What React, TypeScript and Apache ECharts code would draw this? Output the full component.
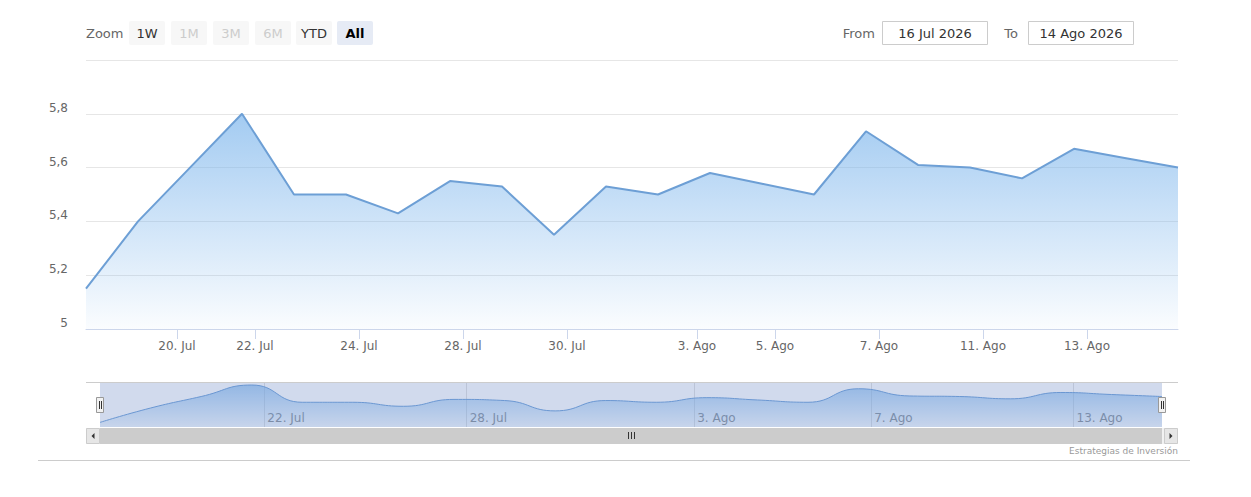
import React, { useEffect, useRef } from 'react';
import * as echarts from 'echarts';

// ---- data ----
const dates = [
  '2026-07-16', '2026-07-17', '2026-07-20', '2026-07-21', '2026-07-22', '2026-07-23',
  '2026-07-24', '2026-07-27', '2026-07-28', '2026-07-29', '2026-07-30', '2026-07-31',
  '2026-08-03', '2026-08-04', '2026-08-05', '2026-08-06', '2026-08-07', '2026-08-10',
  '2026-08-11', '2026-08-12', '2026-08-13', '2026-08-14',
];
const values = [
  5.15, 5.40, 5.60, 5.80, 5.50, 5.50,
  5.43, 5.55, 5.53, 5.35, 5.53, 5.50,
  5.58, 5.54, 5.50, 5.735, 5.61, 5.60,
  5.56, 5.67, 5.635, 5.60,
];
const mainTickDates = [
  '2026-07-20', '2026-07-22', '2026-07-24', '2026-07-28', '2026-07-30',
  '2026-08-03', '2026-08-05', '2026-08-07', '2026-08-11', '2026-08-13',
];
const navTickDates = ['2026-07-22', '2026-07-28', '2026-08-03', '2026-08-07', '2026-08-13'];
const monthNames = ['Ene', 'Feb', 'Mar', 'Abr', 'May', 'Jun', 'Jul', 'Ago', 'Sep', 'Oct', 'Nov', 'Dic'];
const yMin = 5;
const yMax = 6;
const yStep = 0.2;
const rangeButtons = ['1W', '1M', '3M', '6M', 'YTD', 'All'];
const disabledButtons = ['1M', '3M', '6M'];
const selectedButton = 'All';
const creditText = 'Estrategias de Inversión';

const POINT_HOUR = 18;
const FONT = "'DejaVu Sans', Verdana, sans-serif";

function parse(d: string) {
  const [y, m, day] = d.split('-').map(Number);
  return { y, m, day };
}
const pointTimes = dates.map((d) => {
  const p = parse(d);
  return Date.UTC(p.y, p.m - 1, p.day, POINT_HOUR);
});
function ordinalPos(d: string) {
  const p = parse(d);
  const t = Date.UTC(p.y, p.m - 1, p.day, 0);
  for (let i = 0; i < pointTimes.length - 1; i++) {
    if (t >= pointTimes[i] && t < pointTimes[i + 1]) {
      return i + (t - pointTimes[i]) / (pointTimes[i + 1] - pointTimes[i]);
    }
  }
  return 0;
}
function shortLabel(d: string) {
  const p = parse(d);
  return `${p.day}. ${monthNames[p.m - 1]}`;
}
function longLabel(d: string) {
  const p = parse(d);
  return `${p.day} ${monthNames[p.m - 1]} ${p.y}`;
}

const labelMap: Record<string, string> = {};
[...mainTickDates, ...navTickDates].forEach((d) => {
  labelMap[ordinalPos(d).toFixed(4)] = shortLabel(d);
});
const mainTickPos = mainTickDates.map(ordinalPos);
const navTickPos = navTickDates.map(ordinalPos);
const fmtX = (v: number) => labelMap[v.toFixed(4)] ?? '';

export default function App() {
  const ref = useRef<HTMLDivElement>(null);

  useEffect(() => {
    if (!ref.current) return;
    const chart = echarts.init(ref.current, undefined, { renderer: 'svg' });
    const seriesData = values.map((v, i) => [i, v]);
    const lastIdx = values.length - 1;

    const graphic: any[] = [];
    // Zoom label
    graphic.push({
      type: 'text', x: 86, y: 33,
      style: { text: 'Zoom', fill: '#666', font: `13px ${FONT}`, verticalAlign: 'middle', align: 'left' },
    });
    const btnX = [129, 171, 213, 255, 296, 337];
    rangeButtons.forEach((b, k) => {
      const sel = b === selectedButton;
      const dis = disabledButtons.includes(b);
      graphic.push({
        type: 'rect', shape: { x: btnX[k], y: 21, width: 36, height: 24, r: 2 },
        style: { fill: sel ? '#e6ebf5' : '#f7f7f7' },
      });
      graphic.push({
        type: 'text', x: btnX[k] + 18, y: 33,
        style: {
          text: b, fill: sel ? '#000' : dis ? '#cccccc' : '#333',
          font: `${sel ? 'bold ' : ''}13px ${FONT}`, align: 'center', verticalAlign: 'middle',
        },
      });
    });
    // From / To
    graphic.push({
      type: 'text', x: 875, y: 33,
      style: { text: 'From', fill: '#666', font: `13px ${FONT}`, align: 'right', verticalAlign: 'middle' },
    });
    graphic.push({
      type: 'rect', shape: { x: 882.5, y: 21.5, width: 105, height: 23 },
      style: { fill: '#fff', stroke: '#cccccc', lineWidth: 1 },
    });
    graphic.push({
      type: 'text', x: 935, y: 33,
      style: { text: longLabel(dates[0]), fill: '#333', font: `13px ${FONT}`, align: 'center', verticalAlign: 'middle' },
    });
    graphic.push({
      type: 'text', x: 1018, y: 33,
      style: { text: 'To', fill: '#666', font: `13px ${FONT}`, align: 'right', verticalAlign: 'middle' },
    });
    graphic.push({
      type: 'rect', shape: { x: 1028.5, y: 21.5, width: 105, height: 23 },
      style: { fill: '#fff', stroke: '#cccccc', lineWidth: 1 },
    });
    graphic.push({
      type: 'text', x: 1081, y: 33,
      style: { text: longLabel(dates[lastIdx]), fill: '#333', font: `13px ${FONT}`, align: 'center', verticalAlign: 'middle' },
    });
    // navigator outline
    graphic.push({
      type: 'line', shape: { x1: 86, y1: 382.5, x2: 1178, y2: 382.5 },
      style: { stroke: '#cccccc', lineWidth: 1 },
    });
    // navigator mask
    graphic.push({
      type: 'rect', z: 10, shape: { x: 100, y: 383, width: 1062, height: 44 },
      style: { fill: 'rgba(102,133,194,0.3)' },
    });
    // handles
    [100, 1162].forEach((hx) => {
      graphic.push({
        type: 'rect', z: 11, shape: { x: hx - 3.5, y: 397.5, width: 7, height: 15 },
        style: { fill: '#f2f2f2', stroke: '#999999', lineWidth: 1 },
      });
      [hx - 1, hx + 1].forEach((lx) => {
        graphic.push({
          type: 'line', z: 12, shape: { x1: lx + 0.5, y1: 401, x2: lx + 0.5, y2: 409 },
          style: { stroke: '#333', lineWidth: 1 },
        });
      });
    });
    // scrollbar
    graphic.push({
      type: 'rect', shape: { x: 86, y: 428, width: 1092, height: 16 },
      style: { fill: '#f2f2f2' },
    });
    graphic.push({
      type: 'rect', shape: { x: 100, y: 428, width: 1062, height: 16 },
      style: { fill: '#cccccc' },
    });
    graphic.push({
      type: 'rect', shape: { x: 86.5, y: 428.5, width: 13, height: 15 },
      style: { fill: '#e6e6e6', stroke: '#cccccc', lineWidth: 1 },
    });
    graphic.push({
      type: 'rect', shape: { x: 1164.5, y: 428.5, width: 13, height: 15 },
      style: { fill: '#e6e6e6', stroke: '#cccccc', lineWidth: 1 },
    });
    graphic.push({
      type: 'polygon', shape: { points: [[94.5, 433], [94.5, 439], [91.5, 436]] },
      style: { fill: '#333' },
    });
    graphic.push({
      type: 'polygon', shape: { points: [[1169.5, 433], [1169.5, 439], [1172.5, 436]] },
      style: { fill: '#333' },
    });
    [628.5, 631.5, 634.5].forEach((gx) => {
      graphic.push({
        type: 'line', shape: { x1: gx, y1: 432, x2: gx, y2: 439 },
        style: { stroke: '#333', lineWidth: 1 },
      });
    });
    // credits
    graphic.push({
      type: 'text', x: 1178, y: 451,
      style: { text: creditText, fill: '#999', font: `9px ${FONT}`, align: 'right', verticalAlign: 'middle' },
    });
    // bottom line
    graphic.push({
      type: 'line', shape: { x1: 38, y1: 460.5, x2: 1190, y2: 460.5 },
      style: { stroke: '#cccccc', lineWidth: 1 },
    });

    chart.setOption({
      animation: false,
      textStyle: { fontFamily: FONT },
      grid: [
        { left: 86, top: 60, width: 1092, height: 269 },
        { left: 100, top: 383, width: 1062, height: 44 },
      ],
      xAxis: [
        {
          type: 'value', gridIndex: 0, min: 0, max: lastIdx,
          axisLine: { show: true, lineStyle: { color: '#ccd6eb', width: 1 } },
          axisTick: { show: true, customValues: mainTickPos, length: 10, lineStyle: { color: '#ccd6eb' } },
          axisLabel: {
            customValues: mainTickPos, formatter: fmtX, color: '#666', fontSize: 12, margin: 11,
            fontFamily: FONT, hideOverlap: false,
          },
          splitLine: { show: false },
        },
        {
          type: 'value', gridIndex: 1, min: 0, max: lastIdx,
          axisLine: { show: false },
          axisTick: { show: true, customValues: navTickPos, inside: true, length: 44, lineStyle: { color: '#e0e0e0' } },
          axisLabel: {
            customValues: navTickPos, formatter: fmtX, inside: true, align: 'left', margin: 3,
            padding: [0, 0, 0, 3], color: '#888', fontSize: 12, fontFamily: FONT,
          },
          splitLine: { show: false },
        },
      ],
      yAxis: [
        {
          type: 'value', gridIndex: 0, min: yMin, max: yMax, interval: yStep,
          axisLine: { show: false }, axisTick: { show: false },
          splitLine: { show: true, lineStyle: { color: '#e6e6e6', width: 1 } },
          axisLabel: {
            formatter: (v: number) => String(Number(v.toFixed(1))).replace('.', ','),
            showMaxLabel: false, color: '#666', fontSize: 12, margin: 18,
            verticalAlign: 'bottom', fontFamily: FONT,
          },
        },
        {
          type: 'value', gridIndex: 1, min: 5.07, max: 5.835, show: false,
          splitLine: { show: false },
        },
      ],
      series: [
        {
          type: 'line', xAxisIndex: 0, yAxisIndex: 0, data: seriesData,
          symbol: 'none', lineStyle: { color: '#6d9fd5', width: 2 },
          areaStyle: {
            color: new echarts.graphic.LinearGradient(0, 0, 0, 1, [
              { offset: 0, color: 'rgba(124,181,236,1)' },
              { offset: 1, color: 'rgba(124,181,236,0.05)' },
            ]),
            origin: 'start',
          },
        },
        {
          type: 'line', xAxisIndex: 1, yAxisIndex: 1, data: seriesData, smooth: true,
          symbol: 'none', lineStyle: { color: '#6c9fd8', width: 1 },
          areaStyle: {
            color: new echarts.graphic.LinearGradient(0, 0, 0, 1, [
              { offset: 0, color: 'rgba(124,181,236,0.95)' },
              { offset: 1, color: 'rgba(124,181,236,0.15)' },
            ]),
            origin: 'start',
          },
        },
      ],
      graphic,
    });
    return () => chart.dispose();
  }, []);

  return (
    <div
      ref={ref}
      style={{ position: 'fixed', left: 0, top: 0, width: 1251, height: 497, background: '#fff' }}
    />
  );
}
